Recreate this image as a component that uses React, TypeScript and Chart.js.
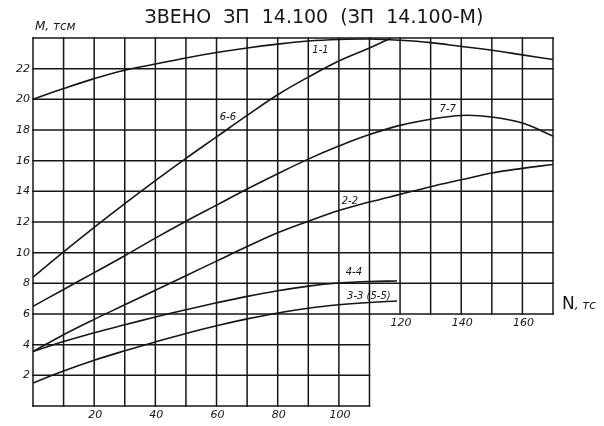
import React, { useEffect, useRef } from "react";
import { Chart, registerables } from "chart.js";

Chart.register(...registerables);

// ---- data (N, тс  ->  M, тсм) ----
const X_11 = [0, 10, 20, 30, 40, 50, 60, 70, 80, 90, 100, 110, 120, 130, 140, 150, 160, 170];
const M_11 = [20.0, 20.7, 21.35, 21.9, 22.3, 22.7, 23.05, 23.35, 23.6, 23.8, 23.9, 23.93, 23.85, 23.7, 23.45, 23.2, 22.9, 22.6];

const X_66 = [0, 10, 20, 30, 40, 50, 60, 70, 80, 90, 100, 110, 117];
const M_66 = [8.4, 10.05, 11.65, 13.2, 14.7, 16.15, 17.55, 18.95, 20.3, 21.45, 22.5, 23.35, 24.0];

const X_77 = [0, 10, 20, 30, 40, 50, 60, 70, 80, 90, 100, 110, 120, 130, 140, 150, 160, 170];
const M_77 = [6.5, 7.6, 8.7, 9.8, 10.95, 12.05, 13.1, 14.15, 15.15, 16.1, 16.95, 17.7, 18.3, 18.7, 18.95, 18.85, 18.45, 17.6];

const X_22 = [0, 10, 20, 30, 40, 50, 60, 70, 80, 90, 100, 110, 120, 130, 140, 150, 160, 170];
const M_22 = [3.55, 4.65, 5.65, 6.6, 7.55, 8.5, 9.45, 10.4, 11.3, 12.05, 12.75, 13.3, 13.8, 14.3, 14.75, 15.2, 15.5, 15.75];

const X_44 = [0, 10, 20, 30, 40, 50, 60, 70, 80, 90, 100, 110, 119];
const M_44 = [3.55, 4.2, 4.78, 5.3, 5.8, 6.28, 6.73, 7.15, 7.52, 7.82, 8.02, 8.12, 8.15];

const X_33 = [0, 10, 20, 30, 40, 50, 60, 70, 80, 90, 100, 110, 119];
const M_33 = [1.5, 2.28, 2.98, 3.6, 4.18, 4.73, 5.23, 5.68, 6.07, 6.38, 6.6, 6.75, 6.85];

const CURVE_LABELS = ["1-1", "6-6", "7-7", "2-2", "4-4", "3-3 (5-5)"];
const CURVE_LABEL_N = [94, 63.7, 135.6, 103.6, 104.9, 109.8];
const CURVE_LABEL_M = [23.2, 18.85, 19.37, 13.37, 8.74, 7.18];

const Y_TICKS = [2, 4, 6, 8, 10, 12, 14, 16, 18, 20, 22];
const X_TICKS = [20, 40, 60, 80, 100, 120, 140, 160];

const TITLE = "ЗВЕНО  ЗП  14.100  (ЗП  14.100-М)";
const Y_NAME = "М, тсм";
const X_NAME_MAIN = "N";
const X_NAME_UNIT = ", тс";

const N_MAX = 170;
const N_STEP_LOW = 110; // lower part of grid ends here
const M_STEP = 6; // level where grid steps
const M_MAX = 24;

const INK = "#161616";

const pts = (xs: number[], ys: number[]) => xs.map((x, i) => ({ x, y: ys[i] }));

const gridPlugin = {
  id: "stepGrid",
  beforeDatasetsDraw(chart: any) {
    const { ctx, scales } = chart;
    const xs = scales.x;
    const ys = scales.y;
    ctx.save();
    ctx.strokeStyle = INK;
    ctx.lineWidth = 1.5;
    ctx.lineCap = "square";
    // verticals
    for (let n = 0; n <= N_MAX; n += 10) {
      const px = xs.getPixelForValue(n);
      const yBottom = n <= N_STEP_LOW ? 0 : M_STEP;
      ctx.beginPath();
      ctx.moveTo(px, ys.getPixelForValue(yBottom));
      ctx.lineTo(px, ys.getPixelForValue(M_MAX));
      ctx.stroke();
    }
    // horizontals
    for (let m = 0; m <= M_MAX; m += 2) {
      const py = ys.getPixelForValue(m);
      const xRight = m < M_STEP ? N_STEP_LOW : N_MAX;
      ctx.beginPath();
      ctx.moveTo(xs.getPixelForValue(0), py);
      ctx.lineTo(xs.getPixelForValue(xRight), py);
      ctx.stroke();
    }
    ctx.restore();
  },
  afterDraw(chart: any) {
    const { ctx, scales } = chart;
    const xs = scales.x;
    const ys = scales.y;
    ctx.save();
    ctx.fillStyle = INK;
    ctx.textBaseline = "middle";

    // y tick labels
    ctx.font = "italic 11px 'DejaVu Sans'";
    ctx.textAlign = "right";
    for (const m of Y_TICKS) {
      ctx.fillText(String(m), xs.getPixelForValue(0) - 3, ys.getPixelForValue(m));
    }
    // x tick labels
    ctx.textAlign = "center";
    for (const n of X_TICKS) {
      const base = n <= N_STEP_LOW ? 0 : M_STEP;
      ctx.fillText(String(n), xs.getPixelForValue(n) + 1, ys.getPixelForValue(base) + 9);
    }

    // curve labels
    ctx.font = "italic 10px 'DejaVu Sans'";
    CURVE_LABELS.forEach((t, i) => {
      ctx.fillText(t, xs.getPixelForValue(CURVE_LABEL_N[i]), ys.getPixelForValue(CURVE_LABEL_M[i]));
    });

    // title
    ctx.font = "19px 'DejaVu Sans'";
    ctx.textAlign = "center";
    ctx.fillText(TITLE, 314, 18);

    // y axis name
    ctx.font = "italic 12px 'DejaVu Sans'";
    ctx.textAlign = "left";
    ctx.fillText(Y_NAME, 35, 27);

    // x axis name
    const nx = xs.getPixelForValue(N_MAX) + 9;
    const ny = ys.getPixelForValue(M_STEP) - 9;
    ctx.font = "17px 'DejaVu Sans'";
    ctx.fillText(X_NAME_MAIN, nx, ny);
    const w = ctx.measureText(X_NAME_MAIN).width;
    ctx.font = "italic 12px 'DejaVu Sans'";
    ctx.fillText(X_NAME_UNIT, nx + w, ny + 1);
    ctx.restore();
  },
};

export default function App() {
  const ref = useRef<HTMLCanvasElement>(null);
  useEffect(() => {
    if (!ref.current) return;
    const mk = (xs: number[], ys: number[]) => ({
      data: pts(xs, ys),
      borderColor: INK,
      borderWidth: 1.6,
      pointRadius: 0,
      fill: false,
      tension: 0.4,
    });
    const chart = new Chart(ref.current, {
      type: "line",
      data: {
        datasets: [
          mk(X_11, M_11),
          mk(X_66, M_66),
          mk(X_77, M_77),
          mk(X_22, M_22),
          mk(X_44, M_44),
          mk(X_33, M_33),
        ],
      },
      options: {
        animation: false,
        responsive: false,
        maintainAspectRatio: false,
        layout: { padding: { left: 33, right: 51, top: 38, bottom: 20 } },
        plugins: { legend: { display: false }, tooltip: { enabled: false }, title: { display: false } },
        scales: {
          x: { type: "linear", min: 0, max: N_MAX, display: false },
          y: { type: "linear", min: 0, max: M_MAX, display: false },
        },
      },
      plugins: [gridPlugin],
    });
    return () => chart.destroy();
  }, []);
  return (
    <div style={{ position: "fixed", left: 0, top: 0, width: 604, height: 426, background: "#fff" }}>
      <canvas ref={ref} width={604} height={426} style={{ width: 604, height: 426, display: "block" }} />
    </div>
  );
}
